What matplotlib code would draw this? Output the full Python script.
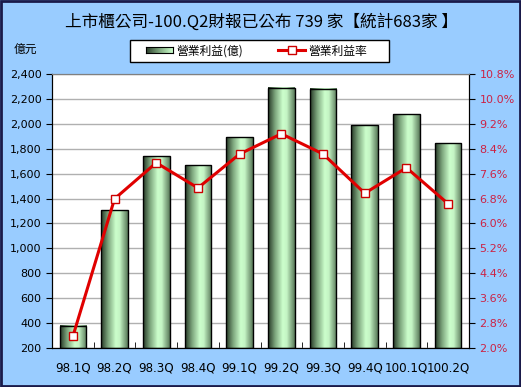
import numpy as np
import matplotlib
matplotlib.use("Agg")
import matplotlib.pyplot as plt
from matplotlib.colors import LinearSegmentedColormap
from matplotlib.patches import Rectangle

plt.rcParams['font.family'] = ['Noto Sans CJK TC', 'DejaVu Sans']

quarters = ['98.1Q', '98.2Q', '98.3Q', '98.4Q', '99.1Q',
            '99.2Q', '99.3Q', '99.4Q', '100.1Q', '100.2Q']
profit = [380, 1305, 1738, 1668, 1893, 2288, 2280, 1990, 2078, 1845]
margin = [2.37, 6.79, 7.95, 7.14, 8.23, 8.88, 8.23, 6.97, 7.79, 6.63]

left_ticks = list(range(200, 2401, 200))
right_ticks = [2.0, 2.8, 3.6, 4.4, 5.2, 6.0, 6.8, 7.6, 8.4, 9.2, 10.0, 10.8]

bg = '#99CCFF'
fig = plt.figure(figsize=(5.21, 3.87), dpi=100, facecolor=bg)
# figure border
fig.patches.append(Rectangle((0.002, 0.003), 0.996, 0.994, transform=fig.transFigure,
                             fill=False, edgecolor='#1a1a4a', linewidth=2))

ax = fig.add_axes([0.0998, 0.1008, 0.8004, 0.708])
ax.set_facecolor('white')
ax.set_axisbelow(True)

cmap = LinearSegmentedColormap.from_list(
    'bar', [(0, '#263826'), (0.25, '#7aa27a'), (0.55, '#ccffcc'),
            (0.7, '#c4f4c4'), (1, '#5a7a5a')])
grad = np.linspace(0, 1, 64).reshape(1, -1)

x = np.arange(len(quarters))
w = 0.64
for xi, v in zip(x, profit):
    ax.imshow(grad, cmap=cmap, aspect='auto', extent=[xi - w / 2, xi + w / 2, 200, v],
              zorder=2, interpolation='bilinear')
    ax.add_patch(Rectangle((xi - w / 2, 200), w, v - 200, fill=False,
                           edgecolor='black', linewidth=1, zorder=3))

ax.set_xlim(-0.5, len(quarters) - 0.5)
ax.set_ylim(200, 2400)
ax.set_yticks(left_ticks)
ax.set_yticklabels([f'{t:,}' for t in left_ticks], fontsize=8, family='DejaVu Sans')
ax.yaxis.grid(True, color='#b0b0b0', linewidth=1)
ax.set_xticks(x)
ax.set_xticklabels(quarters, fontsize=8.6, family='DejaVu Sans')
ax.tick_params(axis='x', length=0, pad=10)
ax.set_xticks(np.arange(-0.5, len(quarters)), minor=True)
ax.tick_params(axis='x', which='minor', length=4, direction='in')
ax.tick_params(axis='y', length=4, direction='out')
for s in ['left', 'bottom', 'right']:
    ax.spines[s].set_color('black')
ax.spines['top'].set_color('#808080')

ax2 = ax.twinx()
ax2.plot(x, margin, color='#e00000', linewidth=2.2, marker='s', markersize=6,
         markerfacecolor='white', markeredgecolor='#cc0000', markeredgewidth=1, zorder=5)
ax2.set_ylim(2.0, 10.8)
ax2.set_yticks(right_ticks)
ax2.set_yticklabels([f'{t:.1f}%' for t in right_ticks], fontsize=8,
                    color='#cc2244', family='DejaVu Sans')
ax2.tick_params(axis='y', length=4, direction='out')
for s in ['left', 'bottom', 'right']:
    ax2.spines[s].set_color('black')
ax2.spines['top'].set_color('#808080')

fig.text(0.501, 0.943, '上市櫃公司-100.Q2財報已公布 739 家【統計683家 】',
         ha='center', va='center', fontsize=12)
fig.text(0.027, 0.871, '億元', ha='left', va='center', fontsize=8.5)

# legend box drawn by hand, entries placed inside it
fig.patches.append(Rectangle((130 / 521, 1 - 62 / 387), 259 / 521, 22 / 387,
                             transform=fig.transFigure, facecolor='white',
                             edgecolor='black', linewidth=1, zorder=1))
bar_handle = Rectangle((0, 0), 1, 1, facecolor='none', edgecolor='none')
line_handle, = ax2.plot([], [], color='#e00000', linewidth=2.2, marker='s', markersize=6,
                        markerfacecolor='white', markeredgecolor='#cc0000')
leg = fig.legend([bar_handle, line_handle], ['營業利益(億)', '營業利益率'],
                 loc='center left', bbox_to_anchor=(146 / 521, 1 - 51 / 387),
                 ncol=2, fontsize=8.5, frameon=False, borderpad=0, borderaxespad=0,
                 handlelength=2.3, handletextpad=0.25, columnspacing=3.0)
leg.set_zorder(2)

# gradient swatch for the bar entry
sw = fig.add_axes([146 / 521, 1 - 53 / 387, 27 / 521, 6 / 387])
sw.set_zorder(3)
sw_cmap = LinearSegmentedColormap.from_list('sw', ['#2c3f2c', '#7fa87f', '#ccffcc'])
sw.imshow(grad, cmap=sw_cmap, aspect='auto', interpolation='bilinear')
sw.set_xticks([])
sw.set_yticks([])
for s in sw.spines.values():
    s.set_color('black')
    s.set_linewidth(0.8)

fig.savefig('out.png', dpi=100, facecolor=bg)
